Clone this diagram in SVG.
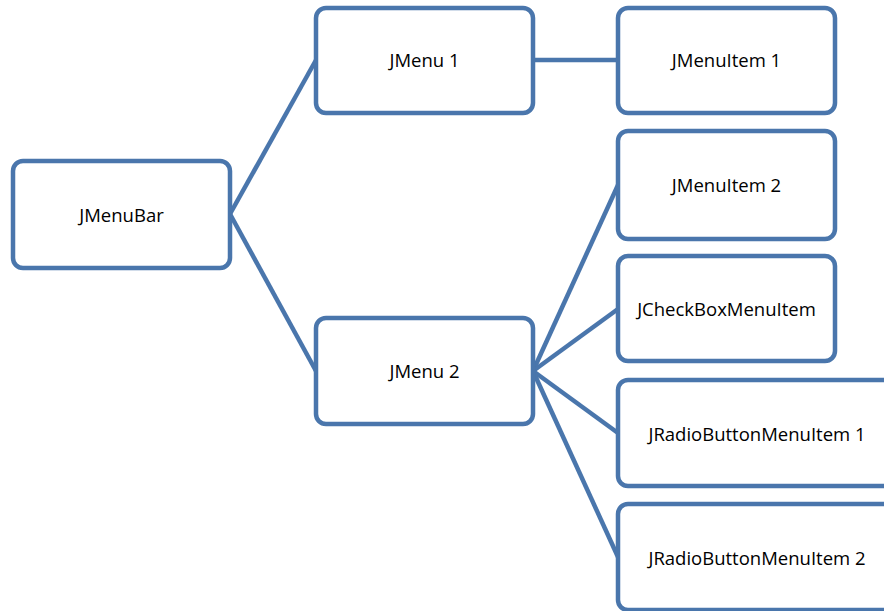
<svg xmlns="http://www.w3.org/2000/svg" width="884" height="611" viewBox="0 0 884 611">
<style>
.box{fill:#fff;stroke:#4a76ac;stroke-width:4.5}
.lbl{font-family:"Open Sans","Liberation Sans",sans-serif;font-size:18.5px;fill:#000;text-anchor:middle;dominant-baseline:central}
.con{stroke:#4a76ac;stroke-width:4.5;fill:none}
</style>
<rect width="884" height="611" fill="#fff"/>
<g id="connectors">
<line class="con" x1="230" y1="214" x2="316" y2="60"/>
<line class="con" x1="230" y1="214" x2="316" y2="371"/>
<line class="con" x1="533" y1="60" x2="618" y2="60"/>
<line class="con" x1="533" y1="371" x2="618" y2="185"/>
<line class="con" x1="533" y1="371" x2="618" y2="309"/>
<line class="con" x1="533" y1="371" x2="618" y2="433"/>
<line class="con" x1="533" y1="371" x2="618" y2="557"/>
</g>
<g id="jmenubar"><rect class="box" x="13" y="161" width="217" height="107" rx="10"/><text class="lbl" x="121.5" y="214">JMenuBar</text></g>
<g id="jmenu1"><rect class="box" x="316" y="8" width="217" height="105" rx="10"/><text class="lbl" x="424.5" y="59">JMenu 1</text></g>
<g id="jmenu2"><rect class="box" x="316" y="318" width="217" height="106" rx="10"/><text class="lbl" x="424.5" y="370">JMenu 2</text></g>
<g id="jmenuitem1"><rect class="box" x="618" y="8" width="217" height="105" rx="10"/><text class="lbl" x="726.5" y="59">JMenuItem 1</text></g>
<g id="jmenuitem2"><rect class="box" x="618" y="131" width="217" height="108" rx="10"/><text class="lbl" x="726.5" y="184">JMenuItem 2</text></g>
<g id="jcheckbox"><rect class="box" x="618" y="256" width="217" height="105" rx="10"/><text class="lbl" x="726.5" y="308">JCheckBoxMenuItem</text></g>
<g id="jradio1"><rect class="box" x="618" y="380" width="278" height="106" rx="10"/><text class="lbl" x="757" y="433">JRadioButtonMenuItem 1</text></g>
<g id="jradio2"><rect class="box" x="618" y="504" width="278" height="106" rx="10"/><text class="lbl" x="757" y="557">JRadioButtonMenuItem 2</text></g>
</svg>
